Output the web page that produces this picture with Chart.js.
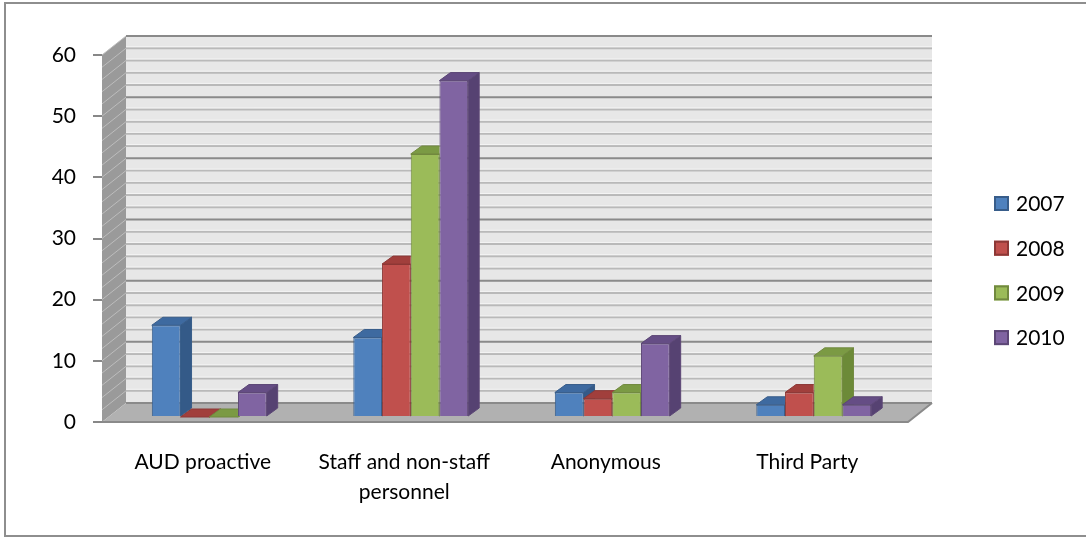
<!DOCTYPE html>
<html>
<head>
<meta charset="utf-8">
<script src="https://cdn.jsdelivr.net/npm/chart.js@4.4.0/dist/chart.umd.min.js"></script>
<style>
  body { margin: 0; background: #fff; }
  #contenedor { position: relative; width: 1086px; height: 537px; }
</style>
</head>
<body>
<div id="contenedor"><canvas id="GraficoDenuncias"></canvas></div>
<script>
// categorias y valores por año
var categorias = ['AUD proactive', ['Staff and non-staff', 'personnel'], 'Anonymous', 'Third Party'];
var anios = ['2007', '2008', '2009', '2010'];
var datos2007 = [15, 13, 4, 2];
var datos2008 = [0, 25, 3, 4];
var datos2009 = [0, 43, 4, 10];
var datos2010 = [4, 55, 12, 2];
var ejeMin = 0, ejeMax = 60, ejePaso = 10;

// colores: frente, lado, arriba, borde
var colores = [
  { frente: '#4f81bd', lado: '#345a88', arriba: '#3e6aa0', borde: '#385d8a' },
  { frente: '#c0504d', lado: '#8c3735', arriba: '#a13f3c', borde: '#8c3836' },
  { frente: '#9bbb59', lado: '#6c8a38', arriba: '#7b9a44', borde: '#71893f' },
  { frente: '#8064a2', lado: '#564272', arriba: '#654d85', borde: '#5c4776' }
];

var fuente = 'Lato, "Open Sans", sans-serif';
var prof = { dx: 24, dy: -19 };                     // fondo de la caja
var barra = { dx: 6.5, dy: -5, px: 11, py: -8 };    // posicion y grosor de las barras
var ley = { x: 994, y: 203.5, paso: 44.7, lado: 15 };

function poligono(c, pts, relleno, trazo) {
  c.beginPath();
  c.moveTo(pts[0][0], pts[0][1]);
  for (var k = 1; k < pts.length; k++) c.lineTo(pts[k][0], pts[k][1]);
  c.closePath();
  if (relleno) { c.fillStyle = relleno; c.fill(); }
  if (trazo) { c.strokeStyle = trazo; c.lineWidth = 1; c.stroke(); }
}

var caja3d = {
  id: 'caja3d',
  beforeDraw: function (chart) {
    var c = chart.ctx, a = chart.chartArea, y = chart.scales.y;
    var L = a.left, R = a.right, B = y.getPixelForValue(ejeMin), T = y.getPixelForValue(ejeMax);
    var dx = prof.dx, dy = prof.dy;
    c.save();
    // marco exterior
    c.strokeStyle = '#8e8e8e';
    c.lineWidth = 2;
    c.strokeRect(5, 3, 1100, 533);
    // pared de fondo
    c.fillStyle = '#e7e7e7';
    c.fillRect(L + dx, T + dy, R - L, B - T);
    // pared izquierda
    poligono(c, [[L, T], [L + dx, T + dy], [L + dx, B + dy], [L, B]], '#9a9a9a');
    // piso
    poligono(c, [[L, B], [L + dx, B + dy], [R + dx, B + dy], [R, B]], '#b1b1b1');
    // lineas de division cada 2
    for (var v = ejeMin; v <= ejeMax; v += 2) {
      var yy = y.getPixelForValue(v);
      var mayor = v % ejePaso === 0;
      c.beginPath();
      c.moveTo(L + dx, yy + dy);
      c.lineTo(R + dx, yy + dy);
      c.strokeStyle = mayor ? '#8a8a8a' : '#b9b9b9';
      c.lineWidth = 2;
      c.stroke();
      if (!mayor) {
        c.beginPath();
        c.moveTo(L + dx, yy + dy - 1.5);
        c.lineTo(R + dx, yy + dy - 1.5);
        c.strokeStyle = '#f4f4f4';
        c.lineWidth = 1;
        c.stroke();
      }
      if (v > ejeMin) {
        c.beginPath();
        c.moveTo(L, yy);
        c.lineTo(L + dx, yy + dy);
        c.strokeStyle = '#bdbdbd';
        c.lineWidth = 1;
        c.stroke();
      }
    }
    // borde frontal del piso
    c.beginPath();
    c.moveTo(L, B);
    c.lineTo(R, B);
    c.lineTo(R + dx, B + dy);
    c.strokeStyle = '#8a8a8a';
    c.lineWidth = 2;
    c.stroke();
    c.restore();
  },
  beforeDatasetsDraw: function (chart) {
    chart.ctx.save();
    chart.ctx.translate(barra.dx, barra.dy);
  },
  afterDatasetsDraw: function (chart) {
    var c = chart.ctx;
    var metas = anios.map(function (_, i) { return chart.getDatasetMeta(i); });
    for (var j = 0; j < categorias.length; j++) {
      for (var i = 0; i < metas.length; i++) {
        var b = metas[i].data[j];
        var xl = b.x - b.width / 2, xr = b.x + b.width / 2, top = b.y, base = b.base;
        var sig = i + 1 < metas.length ? metas[i + 1].data[j] : null;
        var col = colores[i];
        c.save();
        if (sig) {
          // la cara frontal de la barra siguiente tapa el lado
          c.beginPath();
          c.rect(-100, -100, 2000, 2000);
          c.rect(sig.x - sig.width / 2, sig.y, sig.width, sig.base - sig.y);
          c.clip('evenodd');
        }
        poligono(c, [[xr, top], [xr + barra.px, top + barra.py], [xr + barra.px, base + barra.py], [xr, base]], col.lado, col.borde);
        poligono(c, [[xl, top], [xl + barra.px, top + barra.py], [xr + barra.px, top + barra.py], [xr, top]], col.arriba, col.borde);
        c.restore();
      }
    }
    c.restore();
  },
  afterDraw: function (chart) {
    // leyenda a la derecha
    var c = chart.ctx;
    c.save();
    chart.data.datasets.forEach(function (ds, i) {
      var yy = ley.y + i * ley.paso;
      c.fillStyle = ds.backgroundColor;
      c.fillRect(ley.x, yy - ley.lado / 2, ley.lado, ley.lado);
      c.strokeStyle = ds.borderColor;
      c.lineWidth = 2;
      c.strokeRect(ley.x + 1, yy - ley.lado / 2 + 1, ley.lado - 2, ley.lado - 2);
      c.fillStyle = '#000';
      c.font = '21px ' + fuente;
      c.textBaseline = 'middle';
      c.textAlign = 'left';
      c.fillText(ds.label, ley.x + 22, yy + 1);
    });
    c.restore();
  }
};

var series = [datos2007, datos2008, datos2009, datos2010];
var ctx1 = document.getElementById('GraficoDenuncias').getContext('2d');
var data1 = {
  labels: categorias,
  datasets: series.map(function (s, i) {
    return {
      label: anios[i],
      data: s,
      backgroundColor: colores[i].frente,
      borderColor: colores[i].borde,
      borderWidth: 1,
      categoryPercentage: 0.57,
      barPercentage: 1
    };
  })
};
var options1 = {
  responsive: true,
  maintainAspectRatio: false,
  animation: false,
  layout: { padding: { top: 55, right: 178, bottom: 0, left: 0 } },
  plugins: { legend: { display: false }, tooltip: { enabled: false } },
  scales: {
    x: {
      grid: { display: false, drawTicks: false },
      border: { display: false },
      ticks: {
        color: '#000',
        font: { family: fuente, size: 21, lineHeight: 1.4 },
        padding: 26,
        maxRotation: 0,
        autoSkip: false
      },
      afterFit: function (s) { s.height = 115; }
    },
    y: {
      min: ejeMin,
      max: ejeMax,
      grid: { drawOnChartArea: false, drawTicks: true, tickLength: 9, color: '#878787', lineWidth: 2 },
      border: { display: false },
      ticks: {
        stepSize: ejePaso,
        color: '#000',
        font: { family: fuente, size: 21 },
        padding: 17
      },
      afterFit: function (s) { s.width = 102; }
    }
  }
};
var GraficoDenuncias = new Chart(ctx1, {
  type: 'bar',
  data: data1,
  options: options1,
  plugins: [caja3d]
});
</script>
</body>
</html>
